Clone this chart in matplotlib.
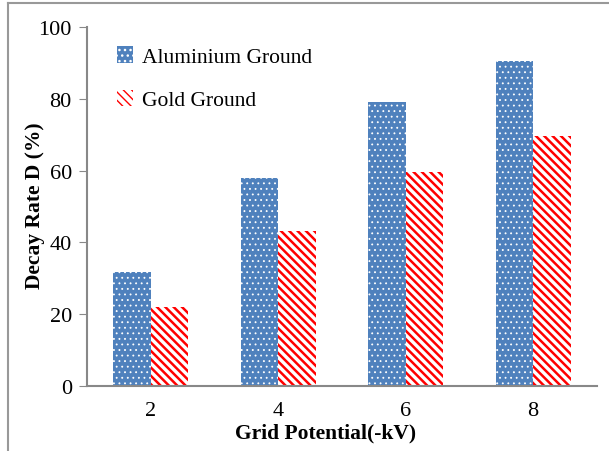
import numpy as np
import matplotlib as mpl
import matplotlib.pyplot as plt
from matplotlib.lines import Line2D

# ── Data ──────────────────────────────────────────────
potentials = ["2", "4", "6", "8"]
aluminium = [31.8, 57.9, 79.1, 90.4]
gold = [22.0, 43.1, 59.5, 69.5]
# ──────────────────────────────────────────────────────

plt.rcParams["font.family"] = ["Liberation Serif", "DejaVu Serif"]

fig = plt.figure(figsize=(6.09, 4.52), dpi=100)
ax = fig.add_axes([0.143, 0.144, 0.837, 0.794])

x = np.arange(len(potentials))
w = 0.295

with mpl.rc_context({"hatch.linewidth": 0.6}):
    ax.bar(x - w / 2, aluminium, w, color="#4F81BD", edgecolor="white",
           hatch="...", linewidth=0, label="Aluminium Ground")
with mpl.rc_context({"hatch.linewidth": 1.8}):
    ax.bar(x + w / 2, gold, w, color="white", edgecolor="#FF0000",
           hatch="\\\\\\\\", linewidth=0, label="Gold Ground")

ax.set_xlim(-0.5, len(potentials) - 0.5)
ax.set_ylim(0, 100)
ax.set_yticks(range(0, 101, 20))
ax.set_xticks(x)
ax.set_xticklabels(potentials)
ax.tick_params(axis="y", length=6, color="#888888", labelsize=16, pad=5)
ax.tick_params(axis="x", length=0, labelsize=16, pad=11)

for s in ["top", "right"]:
    ax.spines[s].set_visible(False)
for s in ["left", "bottom"]:
    ax.spines[s].set_color("#888888")
    ax.spines[s].set_linewidth(1.5)

fig.text(0.534, 0.042, "Grid Potential(-kV)", ha="center", va="center",
         fontsize=15.5, fontweight="bold")
fig.text(0.058, 0.545, "Decay Rate D (%)", ha="center", va="center",
         rotation=90, fontsize=15.5, fontweight="bold")

ax.legend(loc="upper left", bbox_to_anchor=(0.02, 1.0), frameon=False,
          fontsize=15.5, handlelength=0.75, handleheight=0.8,
          handletextpad=0.45, labelspacing=1.05)

# outer frame (only top and left visible)
fig.add_artist(Line2D([0.013, 1], [0.991, 0.991], color="#999999", lw=1.5))
fig.add_artist(Line2D([0.013, 0.013], [0, 0.991], color="#999999", lw=1.5))

fig.savefig("out.png", dpi=100)
